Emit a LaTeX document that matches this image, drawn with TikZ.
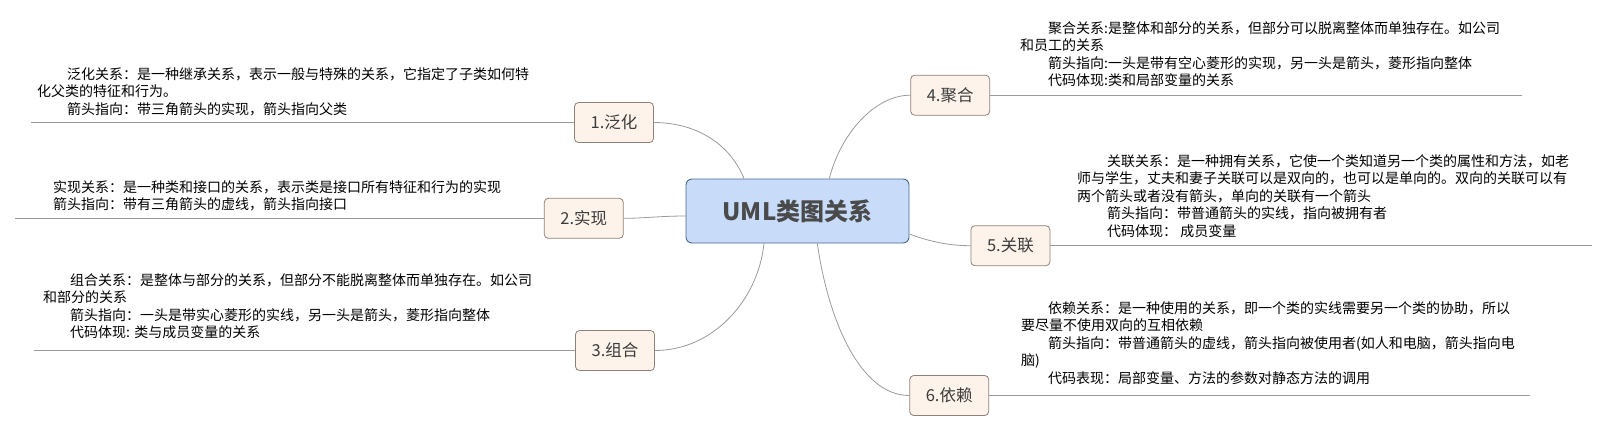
\documentclass[tikz,border=0pt]{standalone}
\usepackage{fontspec}
\newfontfamily\cjk{Noto Sans CJK SC}
\definecolor{rootfill}{HTML}{C8DCFA}
\definecolor{rootdraw}{HTML}{4A6690}
\definecolor{roottext}{HTML}{4A4A4A}
\definecolor{topicfill}{HTML}{FDF3EB}
\definecolor{topicdraw}{HTML}{8F8078}
\definecolor{topictext}{HTML}{3C3C3C}
\definecolor{linegray}{HTML}{9A9A9A}
\newcommand\noteindent[1]{\hspace*{#1pt}}
\begin{document}
\begin{tikzpicture}[x=1pt,y=-1pt,
  root/.style={draw=rootdraw,fill=rootfill,line width=.9pt,rounded corners=6pt,inner sep=0,
    minimum width=223pt,minimum height=64pt,text=roottext,font=\cjk\bfseries\fontsize{24}{28}\selectfont},
  topic/.style={draw=topicdraw,fill=topicfill,line width=.8pt,rounded corners=4pt,inner sep=0,
    minimum width=79pt,minimum height=40pt,text=topictext,font=\cjk\fontsize{16.5}{18}\selectfont},
  note/.style={anchor=base west,inner sep=0,align=left,font=\cjk\fontsize{14}{17.6}\selectfont},
  branch/.style={draw=linegray,line width=.8pt}]
\useasboundingbox (0,0) rectangle (1608,432);
\node[root] (uml) at (797.5,211) {UML类图关系};
\foreach \n/\x/\y/\t in {b1/614/122.5/1.泛化,b2/583.8/218.3/2.实现,b3/615/350.5/3.组合,
    b4/950.2/95.2/4.聚合,b5/1010.4/245.7/5.关联,b6/949.2/395.5/6.依赖}
  \node[topic] (\n) at (\x,\y) {\t};
% free ends of the underlines
\coordinate (l1) at (31,122.5);
\coordinate (l2) at (15,218.3);
\coordinate (l3) at (34,350.5);
\coordinate (l4) at (1521.7,95.2);
\coordinate (l5) at (1592,245.7);
\coordinate (l6) at (1530,395.5);
\draw[branch] (l1) -- (b1.west);
\draw[branch] (l2) -- (b2.west);
\draw[branch] (l3) -- (b3.west);
\draw[branch] (b4.east) -- (l4);
\draw[branch] (b5.east) -- (l5);
\draw[branch] (b6.east) -- (l6);
% branches from the root
\draw[branch] ([xshift=-53.5pt]uml.north) .. controls +(-16,-39) and +(37,0) .. (b1.east);
\draw[branch] ([yshift=-5pt]uml.west) .. controls +(-25,0) and +(20,0) .. (b2.east);
\draw[branch] ([xshift=-33.5pt]uml.south) .. controls +(-6,57) and +(58,0) .. (b3.east);
\draw[branch] ([xshift=31.8pt]uml.north) .. controls +(11,-44) and +(-36,0) .. (b4.west);
\draw[branch] ([yshift=-23pt]uml.east) .. controls +(21,8) and +(-20,0) .. (b5.west);
\draw[branch] ([xshift=19.8pt]uml.south) .. controls +(11,77) and +(-49,0) .. (b6.west);
% notes (placed at the baseline of their last line)
\node[note] (n1) at (37,114.2) {\noteindent{30}泛化关系：是一种继承关系，表示一般与特殊的关系，它指定了子类如何特\\
化父类的特征和行为。\\
\noteindent{30}箭头指向：带三角箭头的实现，箭头指向父类};
\node[note] (n2) at (53,209.6) {实现关系：是一种类和接口的关系，表示类是接口所有特征和行为的实现\\
箭头指向：带有三角箭头的虚线，箭头指向接口};
\node[note] (n3) at (43,337.8) {\noteindent{27}组合关系：是整体与部分的关系，但部分不能脱离整体而单独存在。如公司\\
和部分的关系\\
\noteindent{27}箭头指向：一头是带实心菱形的实线，另一头是箭头，菱形指向整体\\
\noteindent{27}代码体现: 类与成员变量的关系};
\node[note] (n4) at (1020,85.8) {\noteindent{28}聚合关系:是整体和部分的关系，但部分可以脱离整体而单独存在。如公司\\
和员工的关系\\
\noteindent{28}箭头指向:一头是带有空心菱形的实现，另一头是箭头，菱形指向整体\\
\noteindent{28}代码体现:类和局部变量的关系};
\node[note] (n5) at (1077,236.4) {\noteindent{30}关联关系：是一种拥有关系，它使一个类知道另一个类的属性和方法，如老\\
师与学生，丈夫和妻子关联可以是双向的，也可以是单向的。双向的关联可以有\\
两个箭头或者没有箭头，单向的关联有一个箭头\\
\noteindent{30}箭头指向：带普通箭头的实线，指向被拥有者\\
\noteindent{30}代码体现： 成员变量};
\node[note] (n6) at (1021,383.4) {\noteindent{27}依赖关系：是一种使用的关系，即一个类的实线需要另一个类的协助，所以\\
要尽量不使用双向的互相依赖\\
\noteindent{27}箭头指向：带普通箭头的虚线，箭头指向被使用者(如人和电脑，箭头指向电\\
脑)\\
\noteindent{27}代码表现：局部变量、方法的参数对静态方法的调用};
\end{tikzpicture}
\end{document}
